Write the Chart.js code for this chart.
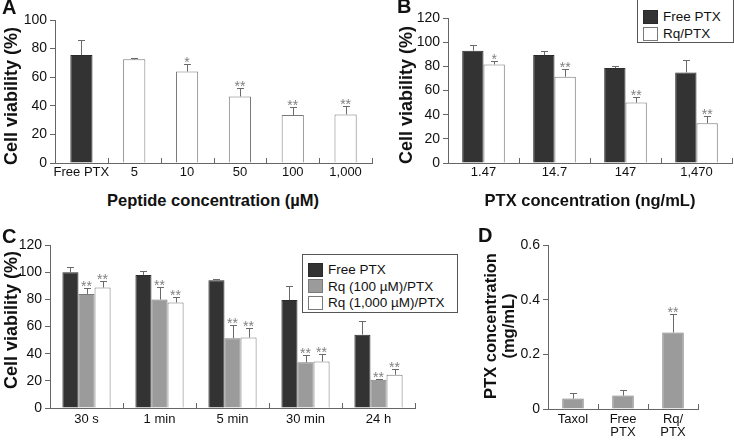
<!DOCTYPE html>
<html>
<head>
<meta charset="utf-8">
<script src="https://cdn.jsdelivr.net/npm/chart.js@4.4.1/dist/chart.umd.min.js"></script>
<style>
  body { margin: 0; background: #fff; }
  #fig { position: relative; width: 734px; height: 441px; overflow: hidden;
         font-family: 'Liberation Sans', Arial, sans-serif; color: #111; }
  canvas { position: absolute; }
  .txt { position: absolute; white-space: nowrap; line-height: 1; }
  .letter { font-weight: bold; font-size: 20px; }
  .ytitle { font-weight: bold; font-size: 18px; line-height: 18px; text-align: center;
            transform: translate(-50%, -50%) rotate(-90deg); }
  .ytitle.small { font-size: 16.5px; }
  .xtitle { font-weight: bold; font-size: 16.5px; transform: translate(-50%, -50%); }
  .legend { position: absolute; border: 1px solid #555; background: #fff; font-size: 13.5px; box-sizing: border-box; }
  .legend .row { position: absolute; display: flex; align-items: center; height: 15px; }
  .legend .sw { width: 15px; height: 14px; box-sizing: border-box; border: 1px solid #777; margin-right: 5px; }
</style>
</head>
<body>
<div id="fig">
  <canvas id="chartA"></canvas>
  <canvas id="chartB"></canvas>
  <canvas id="chartC"></canvas>
  <canvas id="chartD"></canvas>

  <div class="txt letter" style="left:2px;top:-3px">A</div>
  <div class="txt letter" style="left:397px;top:-4px">B</div>
  <div class="txt letter" style="left:2px;top:226px">C</div>
  <div class="txt letter" style="left:478px;top:225px">D</div>

  <div class="txt ytitle" style="left:11px;top:96px">Cell viability (%)</div>
  <div class="txt ytitle" style="left:406px;top:95px">Cell viability (%)</div>
  <div class="txt ytitle" style="left:11px;top:320px">Cell viability (%)</div>
  <div class="txt ytitle small" style="left:499px;top:326px">PTX concentration<br>(mg/mL)</div>

  <div class="txt xtitle" style="left:213px;top:200px">Peptide concentration (µM)</div>
  <div class="txt xtitle" style="left:590px;top:200px">PTX concentration (ng/mL)</div>

  <div class="legend" id="legendB" style="left:637px;top:-1px;width:97px;height:44px"></div>
  <div class="legend" id="legendC" style="left:302px;top:254px;width:156px;height:59px"></div>
</div>

<script>
// Panel A: peptide alone
const peptideLabels = ['Free PTX', '5', '10', '50', '100', '1,000'];
const peptideViability = [75.5, 72.5, 64, 46.5, 33.5, 34];
const peptideError = [10.5, 1.2, 5.5, 5.6, 5.6, 5.8];
const peptideStars = ['', '', '*', '**', '**', '**'];

// Panel B: PTX dose
const doseLabels = ['1.47', '14.7', '147', '1,470'];
const freeDose = [93, 89.3, 78.6, 75];
const freeDoseErr = [4.5, 3.5, 1.5, 10.5];
const rqDose = [81.6, 71.4, 50, 33];
const rqDoseErr = [2.7, 6.3, 5, 6.3];
const rqDoseStars = ['*', '**', '**', '**'];

// Panel C: exposure time
const timeLabels = ['30 s', '1 min', '5 min', '30 min', '24 h'];
const freeTime = [100, 98, 94, 79.5, 54];
const freeTimeErr = [3.5, 2.8, 1.2, 10, 10];
const rq100Time = [84, 79.8, 51.4, 33.6, 20.8];
const rq100TimeErr = [4.6, 9, 9.8, 5.6, 0.6];
const rq1000Time = [88.7, 77.6, 51.9, 34.3, 24.5];
const rq1000TimeErr = [4.9, 4, 6.9, 5.4, 4.4];
const timeStars = ['**', '**', '**', '**', '**'];

// Panel D: solubility
const formLabels = ['Taxol', ['Free', 'PTX'], ['Rq/', 'PTX']];
const formConc = [0.038, 0.049, 0.28];
const formErr = [0.021, 0.022, 0.067];
const formStars = ['', '', '**'];

const FONT = "'Liberation Sans', Arial, sans-serif";
const DARK = '#333333', GRAY = '#9b9b9b', WHITE = '#ffffff';
const AXIS = '#666666';

// barras de error (solo hacia arriba), asteriscos y marcas del eje x
const errorBarPlugin = {
    id: 'errorBars',
    afterDatasetsDraw(chart) {
        const ctx = chart.ctx;
        const yScale = chart.scales.y;
        chart.data.datasets.forEach((ds, i) => {
            const meta = chart.getDatasetMeta(i);
            meta.data.forEach((bar, j) => {
                const top = Math.round(yScale.getPixelForValue(ds.data[j] + ds.errors[j])) + 0.5;
                const x = Math.round(bar.x) + 0.5;
                ctx.save();
                ctx.strokeStyle = '#6a6a6a';
                ctx.lineWidth = 1;
                ctx.beginPath();
                ctx.moveTo(x, bar.y);
                ctx.lineTo(x, top);
                ctx.moveTo(x - 3.5, top);
                ctx.lineTo(x + 3.5, top);
                ctx.stroke();
                if (ds.stars && ds.stars[j]) {
                    ctx.fillStyle = '#808080';
                    ctx.font = '14px ' + FONT;
                    ctx.textAlign = 'center';
                    ctx.textBaseline = 'alphabetic';
                    ctx.fillText(ds.stars[j], bar.x, top + 2.5);
                }
                ctx.restore();
            });
        });
        const xs = chart.scales.x;
        const n = chart.data.labels.length;
        const bottom = chart.chartArea.bottom;
        ctx.save();
        ctx.strokeStyle = AXIS;
        ctx.lineWidth = 1;
        ctx.beginPath();
        for (let k = 1; k <= n; k++) {
            const x = k < n ? (xs.getPixelForValue(k - 1) + xs.getPixelForValue(k)) / 2 : chart.chartArea.right - 0.5;
            const px = Math.round(x) + 0.5;
            ctx.moveTo(px, bottom);
            ctx.lineTo(px, bottom - 5);
        }
        ctx.stroke();
        ctx.restore();
    }
};

function crearPanel(id, g, labels, datasets, yOpts) {
    const canvas = document.getElementById(id);
    canvas.width = g.w;
    canvas.height = g.h;
    canvas.style.left = g.left + 'px';
    canvas.style.top = g.top + 'px';
    return new Chart(canvas, {
        type: 'bar',
        data: { labels: labels, datasets: datasets },
        options: {
            responsive: false,
            animation: false,
            devicePixelRatio: 1,
            layout: { padding: { top: g.padTop, right: g.padRight, left: 0, bottom: 0 } },
            plugins: { legend: { display: false }, tooltip: { enabled: false } },
            datasets: { bar: { categoryPercentage: g.catPct, barPercentage: g.barPct, borderWidth: 1 } },
            scales: {
                x: {
                    offset: true,
                    grid: { display: false, drawTicks: false },
                    border: { display: true, color: AXIS, width: 1 },
                    ticks: { color: '#111', font: { family: FONT, size: 13, lineHeight: 1.0 }, padding: g.xPad, maxRotation: 0, autoSkip: false },
                    afterFit(s) { s.height = g.xHeight; s.paddingLeft = 0; s.paddingRight = 0; }
                },
                y: {
                    min: yOpts.min, max: yOpts.max,
                    grid: { drawOnChartArea: false, drawTicks: true, tickLength: 5, color: AXIS },
                    border: { display: true, color: AXIS, width: 1 },
                    ticks: { stepSize: yOpts.step, color: '#111', font: { family: FONT, size: 14 }, padding: 3 },
                    afterFit(s) { s.width = g.yWidth; s.paddingTop = 0; s.paddingBottom = 0; }
                }
            }
        },
        plugins: [errorBarPlugin]
    });
}

function crearLeyenda(id, datasets, first, pitch) {
    const box = document.getElementById(id);
    datasets.forEach((ds, i) => {
        const row = document.createElement('div');
        row.className = 'row';
        row.style.left = '5px';
        row.style.top = (first + i * pitch) + 'px';
        row.innerHTML = `<span class="sw" style="background:${ds.backgroundColor};border-color:${ds.borderColor}"></span>${ds.label}`;
        box.appendChild(row);
    });
}

// A
crearPanel('chartA',
    { left: 0, top: 0, w: 374, h: 185, yWidth: 55, padTop: 20, padRight: 2, xHeight: 22, xPad: 3, catPct: 1, barPct: 0.42 },
    peptideLabels,
    [{
        label: 'Cell viability',
        data: peptideViability,
        errors: peptideError,
        stars: peptideStars,
        backgroundColor: peptideLabels.map((l, i) => i === 0 ? DARK : WHITE),
        borderColor: peptideLabels.map((l, i) => i === 0 ? '#2a2a2a' : '#7a7a7a')
    }],
    { min: 0, max: 100, step: 20 });

// B
const datasetsB = [
    { label: 'Free PTX', data: freeDose, errors: freeDoseErr, backgroundColor: DARK, borderColor: '#2a2a2a' },
    { label: 'Rq/PTX', data: rqDose, errors: rqDoseErr, stars: rqDoseStars, backgroundColor: WHITE, borderColor: '#7a7a7a' }
];
crearPanel('chartB',
    { left: 370, top: 0, w: 364, h: 185, yWidth: 78, padTop: 18, padRight: 2, xHeight: 22, xPad: 3, catPct: 0.6, barPct: 1 },
    doseLabels, datasetsB, { min: 0, max: 120, step: 20 });
crearLeyenda('legendB', datasetsB, 9, 17);

// C
const datasetsC = [
    { label: 'Free PTX', data: freeTime, errors: freeTimeErr, backgroundColor: DARK, borderColor: '#2a2a2a' },
    { label: 'Rq (100 µM)/PTX', data: rq100Time, errors: rq100TimeErr, stars: timeStars, backgroundColor: GRAY, borderColor: '#7a7a7a' },
    { label: 'Rq (1,000 µM)/PTX', data: rq1000Time, errors: rq1000TimeErr, stars: timeStars, backgroundColor: WHITE, borderColor: '#7a7a7a' }
];
crearPanel('chartC',
    { left: 0, top: 220, w: 420, h: 221, yWidth: 50, padTop: 25, padRight: 5, xHeight: 33, xPad: 5, catPct: 0.66, barPct: 1 },
    timeLabels, datasetsC, { min: 0, max: 120, step: 20 });
crearLeyenda('legendC', datasetsC, 7, 16.7);

// D
crearPanel('chartD',
    { left: 450, top: 220, w: 284, h: 221, yWidth: 98, padTop: 25, padRight: 36, xHeight: 32, xPad: 4, catPct: 1, barPct: 0.43 },
    formLabels,
    [{ label: 'PTX concentration', data: formConc, errors: formErr, stars: formStars, backgroundColor: GRAY, borderColor: '#7a7a7a' }],
    { min: 0, max: 0.6, step: 0.2 });
</script>
</body>
</html>
